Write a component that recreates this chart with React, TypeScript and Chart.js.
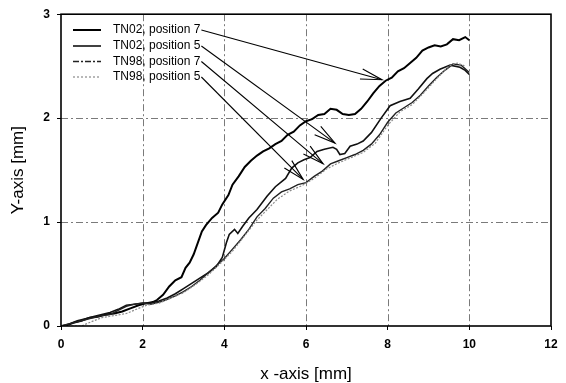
import React, { useEffect, useRef } from 'react';
import { Chart, registerables } from 'chart.js';

Chart.register(...registerables);

// ---- data ----
const tn02p7X = [0, 0.1, 0.3, 0.5, 0.7, 0.9, 1.1, 1.3, 1.5, 1.7, 1.9, 2.1, 2.25, 2.35, 2.5, 2.65, 2.8, 2.95, 3.05, 3.15, 3.25, 3.35, 3.45, 3.55, 3.7, 3.85, 3.95, 4.1, 4.2, 4.35, 4.5, 4.65, 4.8, 4.95, 5.1, 5.25, 5.4, 5.55, 5.7, 5.85, 6.0, 6.15, 6.3, 6.45, 6.6, 6.75, 6.9, 7.05, 7.2, 7.35, 7.5, 7.65, 7.8, 7.95, 8.1, 8.25, 8.4, 8.55, 8.7, 8.85, 9.0, 9.15, 9.3, 9.45, 9.6, 9.75, 9.9, 10.0];
const tn02p7Y = [0, 0.0, 0.03, 0.05, 0.08, 0.09, 0.11, 0.12, 0.14, 0.17, 0.2, 0.22, 0.23, 0.25, 0.3, 0.38, 0.44, 0.47, 0.56, 0.61, 0.69, 0.8, 0.91, 0.97, 1.04, 1.09, 1.17, 1.26, 1.36, 1.44, 1.53, 1.59, 1.64, 1.68, 1.71, 1.75, 1.78, 1.84, 1.87, 1.93, 1.97, 1.99, 2.03, 2.04, 2.09, 2.08, 2.04, 2.03, 2.04, 2.09, 2.16, 2.24, 2.31, 2.36, 2.39, 2.45, 2.48, 2.53, 2.58, 2.65, 2.68, 2.7, 2.69, 2.71, 2.76, 2.75, 2.78, 2.75];

const tn02p5X = [0, 0.2, 0.4, 0.6, 0.8, 1.0, 1.2, 1.4, 1.6, 1.8, 2.0, 2.2, 2.4, 2.6, 2.8, 3.0, 3.2, 3.4, 3.6, 3.8, 3.95, 4.05, 4.12, 4.25, 4.33, 4.45, 4.6, 4.8, 5.05, 5.25, 5.5, 5.65, 5.8, 5.95, 6.1, 6.27, 6.45, 6.66, 6.75, 6.83, 6.95, 7.08, 7.25, 7.4, 7.6, 7.84, 8.06, 8.3, 8.55, 8.75, 8.96, 9.1, 9.28, 9.53, 9.77, 9.9, 10.0];
const tn02p5Y = [0, 0.02, 0.05, 0.07, 0.09, 0.11, 0.13, 0.16, 0.2, 0.21, 0.22, 0.22, 0.24, 0.27, 0.31, 0.36, 0.41, 0.46, 0.51, 0.57, 0.66, 0.8, 0.88, 0.93, 0.89, 0.96, 1.04, 1.12, 1.25, 1.34, 1.42, 1.52, 1.57, 1.6, 1.62, 1.68, 1.7, 1.72, 1.7, 1.65, 1.66, 1.73, 1.75, 1.78, 1.86, 2.0, 2.12, 2.16, 2.19, 2.28, 2.38, 2.43, 2.47, 2.51, 2.49, 2.46, 2.42];

const tn98p7X = [0, 0.1, 0.3, 0.5, 0.8, 1.0, 1.2, 1.4, 1.6, 1.8, 2.0, 2.2, 2.5, 2.8, 3.0, 3.2, 3.4, 3.6, 3.8, 4.0, 4.2, 4.4, 4.6, 4.8, 5.0, 5.2, 5.4, 5.6, 5.8, 6.0, 6.2, 6.4, 6.6, 6.8, 7.0, 7.2, 7.4, 7.6, 7.8, 8.0, 8.2, 8.4, 8.6, 8.8, 9.0, 9.2, 9.4, 9.6, 9.8, 10.0];
const tn98p7Y = [0, 0.01, 0.03, 0.05, 0.08, 0.1, 0.11, 0.15, 0.19, 0.21, 0.22, 0.21, 0.24, 0.29, 0.33, 0.38, 0.44, 0.51, 0.58, 0.65, 0.74, 0.83, 0.93, 1.05, 1.13, 1.23, 1.29, 1.32, 1.36, 1.38, 1.44, 1.49, 1.56, 1.59, 1.62, 1.65, 1.69, 1.75, 1.84, 1.96, 2.05, 2.1, 2.15, 2.22, 2.31, 2.39, 2.46, 2.52, 2.51, 2.44];

const tn98p5X = [0, 0.5, 0.8, 1.0, 1.3, 1.6, 1.9, 2.1, 2.4, 2.7, 3.0, 3.3, 3.6, 3.9, 4.2, 4.5, 4.8, 5.0, 5.3, 5.6, 5.9, 6.2, 6.5, 6.8, 7.1, 7.4, 7.7, 8.0, 8.3, 8.6, 8.9, 9.2, 9.5, 9.7, 9.9];
const tn98p5Y = [0, 0.0, 0.05, 0.08, 0.1, 0.12, 0.17, 0.2, 0.22, 0.27, 0.32, 0.4, 0.49, 0.6, 0.72, 0.87, 1.02, 1.1, 1.22, 1.3, 1.35, 1.42, 1.51, 1.57, 1.62, 1.67, 1.76, 1.93, 2.06, 2.13, 2.25, 2.38, 2.5, 2.53, 2.5];

const seriesLabels = ['TN02, position 7', 'TN02, position 5', 'TN98, position 7', 'TN98, position 5'];
const xTickValues = [0, 2, 4, 6, 8, 10, 12];
const yTickValues = [0, 1, 2, 3];
const arrowTargetX = [7.86, 6.71, 6.42, 5.93];
const arrowTargetY = [2.37, 1.76, 1.56, 1.41];
const xTitle = 'x -axis [mm]';
const yTitle = 'Y-axis [mm]';

const FONT = '"Liberation Sans", Arial, sans-serif';

const toPoints = (xs: number[], ys: number[]) => xs.map((x, i) => ({ x, y: ys[i] }));

const seriesStyle = [
  { color: '#000000', width: 2, dash: [] as number[] },
  { color: '#111111', width: 1.6, dash: [] as number[] },
  { color: '#222222', width: 1.4, dash: [6, 2, 2, 2] },
  { color: '#8a8a8a', width: 1.2, dash: [2, 2] },
];

const overlay = {
  id: 'overlay',
  beforeDatasetsDraw(chart: any) {
    const { ctx, chartArea: a, scales } = chart;
    const x = scales.x;
    const y = scales.y;
    ctx.save();
    ctx.strokeStyle = '#7a7a7a';
    ctx.lineWidth = 1;
    ctx.setLineDash([7, 3, 2, 3]);
    for (const v of xTickValues) {
      if (v === 0 || v === 12) continue;
      const px = Math.round(x.getPixelForValue(v)) + 0.5;
      ctx.beginPath();
      ctx.moveTo(px, a.top);
      ctx.lineTo(px, a.bottom);
      ctx.stroke();
    }
    for (const v of yTickValues) {
      if (v === 0 || v === 3) continue;
      const py = Math.round(y.getPixelForValue(v)) + 0.5;
      ctx.beginPath();
      ctx.moveTo(a.left, py);
      ctx.lineTo(a.right, py);
      ctx.stroke();
    }
    ctx.restore();
  },
  afterDatasetsDraw(chart: any) {
    const { ctx, chartArea: a, scales } = chart;
    const x = scales.x;
    const y = scales.y;
    ctx.save();
    // frame
    ctx.setLineDash([]);
    ctx.strokeStyle = '#000';
    ctx.lineWidth = 1.6;
    ctx.strokeRect(a.left, a.top, a.right - a.left, a.bottom - a.top);

    // legend + arrows
    ctx.font = `12px ${FONT}`;
    ctx.textBaseline = 'middle';
    ctx.textAlign = 'left';
    const rowY = [30, 46, 61.5, 77];
    seriesLabels.forEach((label, i) => {
      const ly = rowY[i];
      const st = seriesStyle[i];
      ctx.strokeStyle = st.color;
      ctx.lineWidth = st.width;
      ctx.setLineDash(st.dash);
      ctx.beginPath();
      ctx.moveTo(a.left + 12, ly);
      ctx.lineTo(a.left + 40, ly);
      ctx.stroke();
      ctx.setLineDash([]);
      ctx.fillStyle = '#000';
      const tx = a.left + 52;
      ctx.fillText(label, tx, ly);
      const w = ctx.measureText(label).width;
      const sx = tx + w + 1;
      const sy = ly;
      const ex = x.getPixelForValue(arrowTargetX[i]);
      const ey = y.getPixelForValue(arrowTargetY[i]);
      ctx.strokeStyle = '#000';
      ctx.lineWidth = 1.1;
      ctx.beginPath();
      ctx.moveTo(sx, sy);
      ctx.lineTo(ex, ey);
      ctx.stroke();
      const ang = Math.atan2(ey - sy, ex - sx);
      const L = 22;
      const spread = 0.24;
      ctx.beginPath();
      ctx.moveTo(ex - L * Math.cos(ang - spread), ey - L * Math.sin(ang - spread));
      ctx.lineTo(ex, ey);
      ctx.lineTo(ex - L * Math.cos(ang + spread), ey - L * Math.sin(ang + spread));
      ctx.stroke();
    });

    // axis titles
    ctx.fillStyle = '#000';
    ctx.font = `17px ${FONT}`;
    ctx.textAlign = 'center';
    ctx.textBaseline = 'middle';
    ctx.fillText(xTitle, (a.left + a.right) / 2, 374);
    ctx.translate(18, (a.top + a.bottom) / 2);
    ctx.rotate(-Math.PI / 2);
    ctx.fillText(yTitle, 0, 0);
    ctx.restore();
  },
};

export default function App() {
  const ref = useRef<HTMLCanvasElement | null>(null);
  useEffect(() => {
    if (!ref.current) return;
    const data = [
      toPoints(tn02p7X, tn02p7Y),
      toPoints(tn02p5X, tn02p5Y),
      toPoints(tn98p7X, tn98p7Y),
      toPoints(tn98p5X, tn98p5Y),
    ];
    const order = [3, 2, 1, 0];
    const chart = new Chart(ref.current, {
      type: 'line',
      data: {
        datasets: order.map((i) => ({
          label: seriesLabels[i],
          data: data[i],
          borderColor: seriesStyle[i].color,
          borderWidth: seriesStyle[i].width,
          borderDash: i === 3 ? [2, 1.5] : [],
          pointRadius: 0,
          tension: 0,
          fill: false,
        })),
      },
      options: {
        responsive: false,
        animation: false,
        parsing: false as any,
        layout: { padding: { top: 12, right: 15, left: 0, bottom: 0 } },
        plugins: { legend: { display: false }, tooltip: { enabled: false } },
        scales: {
          x: {
            type: 'linear',
            min: 0,
            max: 12,
            afterFit: (s: any) => { s.height = 57; },
            afterBuildTicks: (s: any) => { s.ticks = xTickValues.map((v) => ({ value: v })); },
            ticks: { color: '#000', font: { family: FONT, size: 12, weight: 'bold' }, padding: 7, maxRotation: 0 },
            grid: { drawOnChartArea: false, tickLength: 4, tickColor: '#000', color: '#000' },
            border: { display: false },
          },
          y: {
            type: 'linear',
            min: 0,
            max: 3,
            afterFit: (s: any) => { s.width = 61; },
            afterBuildTicks: (s: any) => { s.ticks = yTickValues.map((v) => ({ value: v })); },
            ticks: { color: '#000', font: { family: FONT, size: 12, weight: 'bold' }, padding: 7 },
            grid: { drawOnChartArea: false, tickLength: 4, tickColor: '#000', color: '#000' },
            border: { display: false },
          },
        },
      },
      plugins: [overlay],
    });
    return () => chart.destroy();
  }, []);
  return (
    <div style={{ position: 'fixed', left: 0, top: 0, width: 566, height: 383, background: '#fff' }}>
      <canvas ref={ref} width={566} height={383} style={{ display: 'block' }} />
    </div>
  );
}
